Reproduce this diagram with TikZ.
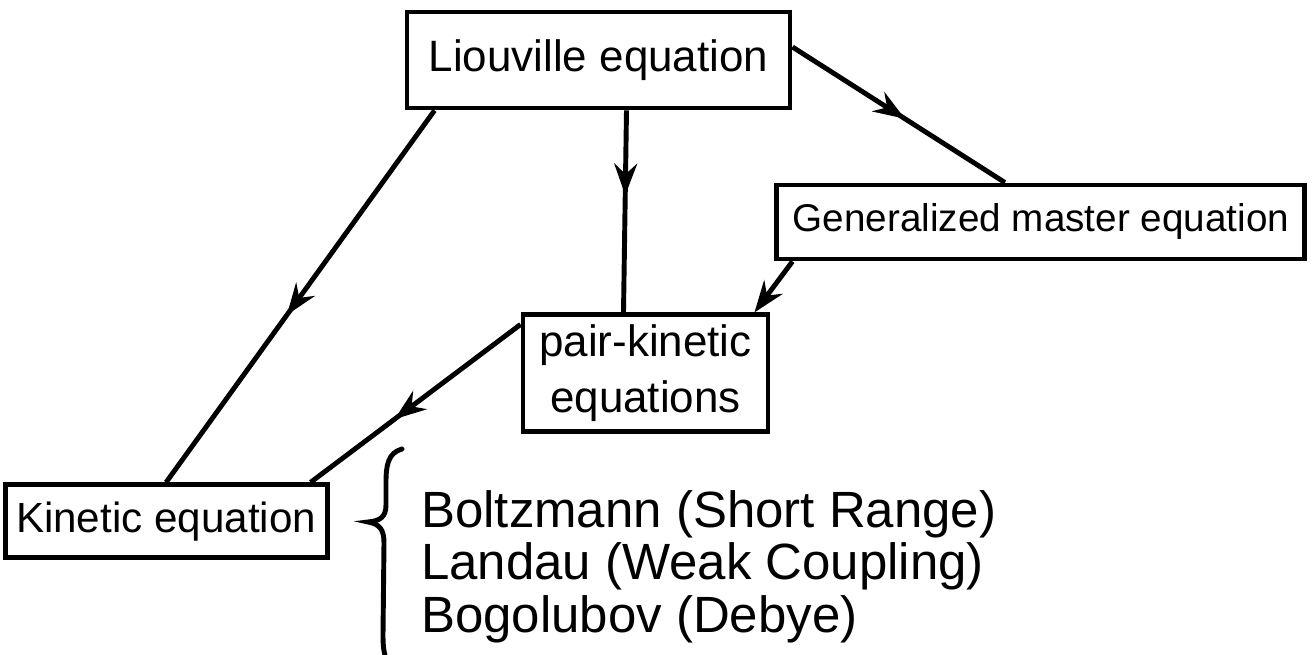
\documentclass[tikz,border=0pt]{standalone}
\usepackage{fontspec}
\setmainfont{Liberation Sans}
\usepackage{tikz}
\usetikzlibrary{arrows.meta, positioning, decorations.markings}

\begin{document}
\begin{tikzpicture}[
    box/.style={rectangle, draw=black, line width=1.4pt, text centered, inner sep=2pt, font=\fontsize{12.5}{16}\selectfont},
    arrow/.style={line width=1.4pt, -{Stealth[length=9pt, width=6.5pt, inset=3pt]}},
    midarrow/.style={line width=1.4pt, postaction={decorate}, decoration={markings, mark=at position #1 with {\arrow{Stealth[length=9pt, width=6.5pt, inset=3pt]}}}}
]

    \useasboundingbox (0,0) rectangle (13.12,6.55);

    \node[box, minimum width=3.83cm, minimum height=0.96cm] (lio) at (5.985,5.95) {Liouville equation};
    \node[box, minimum width=2.45cm, minimum height=1.17cm, align=center, below=2.02cm of lio, xshift=4.7mm] (pair) {pair-kinetic\\equations};
    \node[box, minimum width=5.28cm, minimum height=0.74cm, font=\fontsize{11}{14}\selectfont, above right=0.51cm and 0.04cm of pair] (gen) {Generalized master equation};
    \node[box, minimum width=3.22cm, minimum height=0.73cm, font=\fontsize{12}{14}\selectfont, below left=0.48cm and 1.91cm of pair] (kin) {Kinetic equation};
    \node[right=0.91cm of kin.north east, anchor=north west, yshift=-0.7mm, inner sep=0pt, align=left, font=\fontsize{14.5}{15}\selectfont] (lst) {Boltzmann (Short Range)\\Landau (Weak Coupling)\\Bogolubov (Debye)};

    % brace in front of the list
    \draw[line width=1.4pt, line cap=round] (4.02,2.06) .. controls (3.88,2.02) and (3.86,1.90) .. (3.86,1.72) -- (3.86,1.50) .. controls (3.86,1.38) and (3.80,1.34) .. (3.68,1.33) .. controls (3.80,1.31) and (3.84,1.25) .. (3.84,1.12) -- (3.83,0.20) .. controls (3.83,0.08) and (3.84,0.03) .. (3.85,0);

    \draw[midarrow=0.55] ([xshift=3mm]lio.south west) -- (kin.north);
    \draw[midarrow=0.42] ([xshift=2.8mm]lio.south) -- ([xshift=-2.2mm]pair.north);
    \draw[midarrow=0.53] ([yshift=1.3mm]lio.east) -- ([xshift=-3.6mm]gen.north);
    \draw[arrow] ([xshift=1.8mm]gen.south west) -- ([xshift=-1.6mm]pair.north east);
    \draw[midarrow=0.6] ([yshift=-1.2mm]pair.north west) -- ([xshift=-1.9mm]kin.north east);

\end{tikzpicture}
\end{document}
